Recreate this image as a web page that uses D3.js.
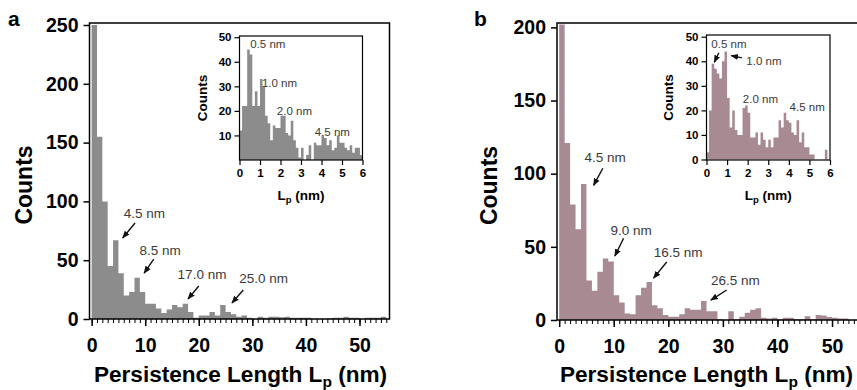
<!DOCTYPE html>
<html>
<head>
<meta charset="utf-8">
<script src="https://cdn.jsdelivr.net/npm/d3@7"></script>
<style>
  body { margin: 0; background: #fff; }
  svg { display: block; font-family: "Liberation Sans", Arial, sans-serif; }
</style>
</head>
<body>
<svg id="chart" width="857" height="390"></svg>
<script>
// histogram counts, 1 nm bins starting at 0 nm
const countsA = [250, 155, 100, 45, 67, 39, 20, 23, 35, 23, 13, 13, 9, 5, 8, 12, 10, 13, 6, 1,
  3, 3, 6, 3, 12, 6, 4, 2, 3, 1, 0, 2, 1, 2, 2, 1.5, 2, 1, 1, 1,
  1, 0, 0, 0, 0.5, 1, 1, 2, 1, 1, 0, 1, 1, 1, 2];
const countsB = [202, 121, 79, 62, 93, 27, 20, 33, 42, 40, 17, 12, 4.5, 4, 17, 22, 26, 10, 8, 3.4,
  2.3, 2.3, 4, 8, 7, 7, 13, 6, 6, 0.5, 0, 6, 0.5, 2.3, 5, 7, 8, 1.5, 1, 1.5,
  0.5, 1.5, 1.5, 0.5, 0.5, 2.5, 0.5, 3.5, 3, 2, 1.5, 1, 1, 0, 0];
// inset histograms, 0.125 nm bins from 0 to 6 nm
const insetCountsA = [12, 22, 22, 45, 43, 22, 28, 22, 33, 30, 18, 15, 8, 14, 13, 13, 18, 18, 11, 10,
  16, 8, 5, 1, 5, 0, 2, 6, 0, 7, 6, 6, 10, 9, 6, 8, 4, 5, 10, 7,
  7, 5, 4, 6, 3, 5, 5, 2];
const insetCountsB = [3, 20, 39, 37, 35, 33, 40, 44, 25, 13, 20, 12, 10, 10, 21, 22, 19, 9, 9, 11,
  6, 11, 8, 5, 8, 5, 9, 9, 16, 13, 19, 16, 15, 11, 10, 16, 7, 11, 5, 5,
  2, 2, 0, 0, 0, 0, 4, 0];

const mainBin = 1, insetBin = 0.125;
const mainYTicksA = [0, 50, 100, 150, 200, 250];
const mainYTicksB = [0, 50, 100, 150, 200];
const mainXTicks = [0, 10, 20, 30, 40, 50];
const insetYTicksA = [10, 20, 30, 40, 50];
const insetYTicksB = [0, 10, 20, 30, 40, 50];
const insetXTicks = [0, 1, 2, 3, 4, 5, 6];

// peak labels: text at [tx, ty], arrow from [x1, y1] to tip [x2, y2] (data units)
const peaksA = [
  { text: "4.5 nm", tx: 9.85, ty: 86, x1: 8.1, y1: 81.6, x2: 5.8, y2: 68.9 },
  { text: "8.5 nm", tx: 12.8, ty: 54.8, x1: 11.6, y1: 51, x2: 9.8, y2: 39 },
  { text: "17.0 nm", tx: 20.6, ty: 33.6, x1: 20.0, y1: 28.1, x2: 18.0, y2: 17 },
  { text: "25.0 nm", tx: 32.1, ty: 30.2, x1: 28.3, y1: 24.7, x2: 26.2, y2: 13.6 }
];
const peaksB = [
  { text: "4.5 nm", tx: 8.4, ty: 108, x1: 8.0, y1: 103.7, x2: 6.3, y2: 92 },
  { text: "9.0 nm", tx: 13.2, ty: 58.3, x1: 11.8, y1: 55.9, x2: 10.2, y2: 43.7 },
  { text: "16.5 nm", tx: 21.8, ty: 43.3, x1: 19.7, y1: 39.6, x2: 17.3, y2: 28.6 },
  { text: "26.5 nm", tx: 32.3, ty: 24.2, x1: 30.7, y1: 20.5, x2: 27.8, y2: 13.6 }
];
const insetPeaksA = [
  { text: "0.5 nm", tx: 1.38, ty: 45.6 },
  { text: "1.0 nm", tx: 1.95, ty: 29.8 },
  { text: "2.0 nm", tx: 2.68, ty: 18.5 },
  { text: "4.5 nm", tx: 4.53, ty: 9.7 }
];
const insetPeaksB = [
  { text: "0.5 nm", tx: 1.09, ty: 45.5, x1: 0.6, y1: 43.5, x2: 0.38, y2: 39.6 },
  { text: "1.0 nm", tx: 2.79, ty: 38.6, x1: 1.72, y1: 41.4, x2: 1.2, y2: 42.3 },
  { text: "2.0 nm", tx: 2.62, ty: 23.1 },
  { text: "4.5 nm", tx: 4.89, ty: 19.8 }
];

const svg = d3.select("#chart");
const boldFont = "Liberation Sans, Arial, sans-serif";

svg.append("defs").append("marker")
  .attr("id", "head")
  .attr("viewBox", "0 0 10 10")
  .attr("refX", 9).attr("refY", 5)
  .attr("markerWidth", 5.5).attr("markerHeight", 5.5)
  .attr("markerUnits", "strokeWidth")
  .attr("orient", "auto")
  .append("path")
  .attr("d", "M0,1 L10,5 L0,9 Z")
  .attr("fill", "#111");

// histogram drawn as one stepped area so neighbouring bins don't leave seams
function histogram(g, counts, binW, x, y, color) {
  const top = y.domain()[1];
  const pts = counts.map((c, i) => [i * binW, Math.min(c, top)]);
  pts.push([counts.length * binW, Math.min(counts[counts.length - 1], top)]);
  const area = d3.area()
    .curve(d3.curveStepAfter)
    .x(d => x(d[0]))
    .y0(y(0))
    .y1(d => y(d[1]));
  g.append("path")
    .datum(pts)
    .attr("d", area)
    .attr("fill", color);
}

function peakLabels(g, peaks, x, y, size) {
  g.append("g").selectAll("text")
    .data(peaks)
    .join("text")
    .attr("x", d => x(d.tx))
    .attr("y", d => y(d.ty))
    .attr("text-anchor", "middle")
    .attr("font-size", size)
    .attr("fill", "#3a3a3a")
    .text(d => d.text);
  g.append("g").selectAll("line")
    .data(peaks.filter(d => d.x1 !== undefined))
    .join("line")
    .attr("x1", d => x(d.x1)).attr("y1", d => y(d.y1))
    .attr("x2", d => x(d.x2)).attr("y2", d => y(d.y2))
    .attr("stroke", "#111")
    .attr("stroke-width", 1.4)
    .attr("marker-end", "url(#head)");
}

function styleAxis(sel, size, width) {
  sel.select(".domain").remove();
  sel.selectAll("line").attr("stroke-width", width);
  sel.selectAll("text").attr("font-size", size).attr("font-weight", "bold")
    .attr("fill", "#000").attr("font-family", boldFont);
}

function drawPanel(p) {
  const g = svg.append("g");
  const x = d3.scaleLinear().domain([-0.4, 55.6]).range([p.left, p.right]);
  const y = d3.scaleLinear().domain([0, p.ymax]).range([p.bottom, p.top]);

  histogram(g, p.counts, mainBin, x, y, p.color);

  // frame
  g.append("rect")
    .attr("x", p.left).attr("y", p.top)
    .attr("width", p.right - p.left).attr("height", p.bottom - p.top)
    .attr("fill", "none").attr("stroke", "#000").attr("stroke-width", 1.5);

  g.append("g")
    .attr("transform", `translate(${p.left},0)`)
    .call(d3.axisLeft(y).tickValues(p.yTicks).tickSize(6).tickPadding(5).tickFormat(d3.format("d")))
    .call(styleAxis, 19.5, 1.5);

  // minor ticks every 1 nm
  g.append("g")
    .attr("transform", `translate(0,${p.bottom})`)
    .call(d3.axisBottom(x).tickValues(d3.range(0, 56, 1)).tickSize(4).tickFormat(""))
    .call(styleAxis, 0, 1);
  g.append("g")
    .attr("transform", `translate(0,${p.bottom})`)
    .call(d3.axisBottom(x).tickValues(mainXTicks).tickSize(7).tickPadding(12).tickFormat(d3.format("d")))
    .call(styleAxis, 19.5, 1.5);

  peakLabels(g, p.peaks, x, y, 13.5);

  // axis titles
  g.append("text")
    .attr("transform", `translate(${p.ylabelX},${(p.top + p.bottom) / 2 + 14}) rotate(-90)`)
    .attr("text-anchor", "middle")
    .attr("font-size", 23).attr("font-weight", "bold")
    .text("Counts");
  const xt = g.append("text")
    .attr("x", p.xlabelX).attr("y", 382)
    .attr("text-anchor", "middle")
    .attr("font-size", 22.6).attr("font-weight", "bold");
  xt.append("tspan").text("Persistence Length L");
  xt.append("tspan").attr("font-size", 15.5).attr("dy", 5).text("p");
  xt.append("tspan").attr("dy", -5).text(" (nm)");

  g.append("text")
    .attr("x", p.tagX).attr("y", 26)
    .attr("font-size", 21).attr("font-weight", "bold")
    .text(p.tag);

  drawInset(p.inset);
}

function drawInset(q) {
  const g = svg.append("g");
  const x = d3.scaleLinear().domain([0, 6]).range([q.left, q.right]);
  const y = d3.scaleLinear().domain([0, q.ymax]).range([q.zeroY, q.top]);

  histogram(g, q.counts, insetBin, x, y, q.color);

  g.append("rect")
    .attr("x", q.left).attr("y", q.top)
    .attr("width", q.right - q.left).attr("height", q.bottom - q.top)
    .attr("fill", "none").attr("stroke", "#000").attr("stroke-width", 1.2);

  g.append("g")
    .attr("transform", `translate(${q.left},0)`)
    .call(d3.axisLeft(y).tickValues(q.yTicks).tickSize(5).tickPadding(3).tickFormat(d3.format("d")))
    .call(styleAxis, 11.5, 1.2);

  g.append("g")
    .attr("transform", `translate(0,${q.bottom})`)
    .call(d3.axisBottom(x).tickValues(insetXTicks).tickSize(5).tickPadding(4).tickFormat(d3.format("d")))
    .call(styleAxis, 11.5, 1.2);

  peakLabels(g, q.peaks, x, y, 11.5);

  g.append("text")
    .attr("transform", `translate(${q.ylabelX},${(q.top + q.bottom) / 2}) rotate(-90)`)
    .attr("text-anchor", "middle")
    .attr("font-size", 13.5).attr("font-weight", "bold")
    .text("Counts");
  const xt = g.append("text")
    .attr("x", (q.left + q.right) / 2).attr("y", 200)
    .attr("text-anchor", "middle")
    .attr("font-size", 13.5).attr("font-weight", "bold");
  xt.append("tspan").text("L");
  xt.append("tspan").attr("font-size", 9.5).attr("dy", 3).text("p");
  xt.append("tspan").attr("dy", -3).text(" (nm)");
}

drawPanel({
  counts: countsA, color: "#8c8c8c", ymax: 251.7, yTicks: mainYTicksA,
  left: 89.5, right: 389.5, top: 23, bottom: 319,
  peaks: peaksA, ylabelX: 32, xlabelX: 240.5, tag: "a", tagX: 8,
  inset: {
    counts: insetCountsA, color: "#8c8c8c", ymax: 50.5, yTicks: insetYTicksA,
    left: 239.5, right: 362.5, top: 36, bottom: 160, zeroY: 160,
    peaks: insetPeaksA, ylabelX: 207
  }
});

drawPanel({
  counts: countsB, color: "#a88a93", ymax: 203, yTicks: mainYTicksB,
  left: 557, right: 862.6, top: 23, bottom: 320,
  peaks: peaksB, ylabelX: 497, xlabelX: 706.5, tag: "b", tagX: 474,
  inset: {
    counts: insetCountsB, color: "#a88a93", ymax: 50.7, yTicks: insetYTicksB,
    left: 706.5, right: 830, top: 35, bottom: 160, zeroY: 159.5,
    peaks: insetPeaksB, ylabelX: 673
  }
});
</script>
</body>
</html>
